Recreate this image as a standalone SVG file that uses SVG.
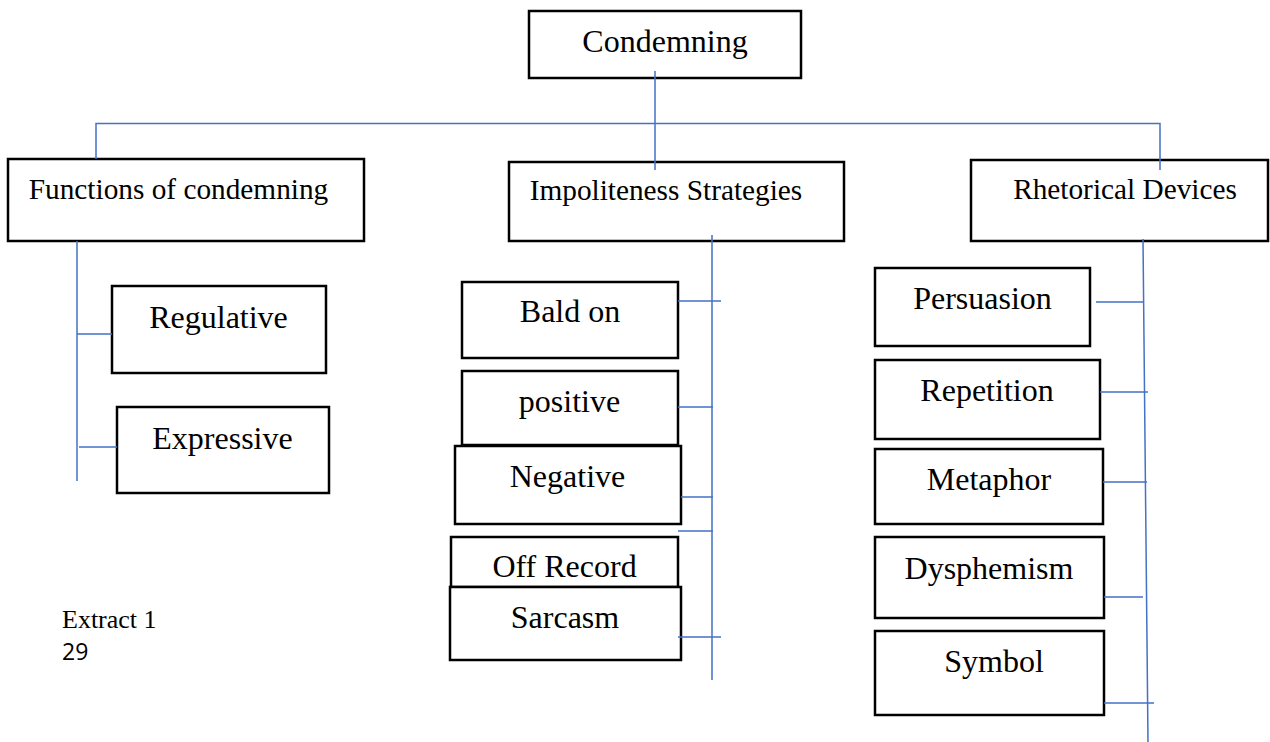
<svg xmlns="http://www.w3.org/2000/svg" width="1270" height="742" viewBox="0 0 1270 742">
<style>
.box{fill:#fff;stroke:#000;stroke-width:2.5}
.t{font-family:"Liberation Serif","Times New Roman",serif;font-size:32px;fill:#000;text-anchor:middle}
.h{font-size:29.3px}
.c{stroke:#4472C4;stroke-width:1.5;fill:none}
</style>
<rect width="1270" height="742" fill="#fff"/>
<g id="n-condemning"><rect class="box" x="529" y="11" width="272" height="67"/><text class="t" x="665" y="52">Condemning</text></g>
<g id="n-functions"><rect class="box" x="8" y="159" width="356" height="82"/><text class="t h" x="178.5" y="199">Functions of condemning</text></g>
<g id="n-impoliteness"><rect class="box" x="509" y="162" width="335" height="79"/><text class="t h" x="666" y="200">Impoliteness Strategies</text></g>
<g id="n-rhetorical"><rect class="box" x="971" y="160" width="297" height="81"/><text class="t h" x="1125" y="199">Rhetorical Devices</text></g>
<g id="n-regulative"><rect class="box" x="112" y="286" width="214" height="87"/><text class="t" x="218.5" y="328">Regulative</text></g>
<g id="n-expressive"><rect class="box" x="117" y="407" width="212" height="86"/><text class="t" x="222.5" y="449">Expressive</text></g>
<g id="n-baldon"><rect class="box" x="462" y="282" width="216" height="76"/><text class="t" x="570" y="322">Bald on</text></g>
<g id="n-positive"><rect class="box" x="462" y="371" width="216" height="74"/><text class="t" x="569.5" y="412">positive</text></g>
<g id="n-negative"><rect class="box" x="455" y="446" width="226" height="78"/><text class="t" x="567.5" y="487">Negative</text></g>
<g id="n-offrecord"><rect class="box" x="451" y="537" width="227" height="50"/><text class="t" x="564.5" y="577">Off Record</text></g>
<g id="n-sarcasm"><rect class="box" x="450" y="587" width="231" height="73"/><text class="t" x="565" y="628">Sarcasm</text></g>
<g id="n-persuasion"><rect class="box" x="875" y="268" width="215" height="78"/><text class="t" x="982.5" y="309">Persuasion</text></g>
<g id="n-repetition"><rect class="box" x="875" y="360" width="225" height="79"/><text class="t" x="987" y="401">Repetition</text></g>
<g id="n-metaphor"><rect class="box" x="875" y="449" width="228" height="75"/><text class="t" x="989" y="490">Metaphor</text></g>
<g id="n-dysphemism"><rect class="box" x="875" y="537" width="229" height="81"/><text class="t" x="989" y="579">Dysphemism</text></g>
<g id="n-symbol"><rect class="box" x="875" y="631" width="229" height="84"/><text class="t" x="994" y="672">Symbol</text></g>
<g id="connectors">
<path class="c" d="M655 71V170M96 159V123.5H1160V170"/>
<path class="c" d="M77 241V481M77 334H112M79 447H117"/>
<path class="c" d="M712 235V680M678 301H721M678 407H713M681 497H713M678 531H713M678 637H721"/>
<path class="c" d="M1143 239L1148 742M1096 302H1143M1100 392H1148M1103 482H1147M1104 597H1143M1104 703H1154"/>
</g>
<g id="caption">
<text x="62" y="628" style="font-family:'Liberation Serif',serif;font-size:26px">Extract 1</text>
<text x="62" y="660" style="font-family:'Open Sans','Noto Sans',sans-serif;font-size:23px">29</text>
</g>
</svg>
